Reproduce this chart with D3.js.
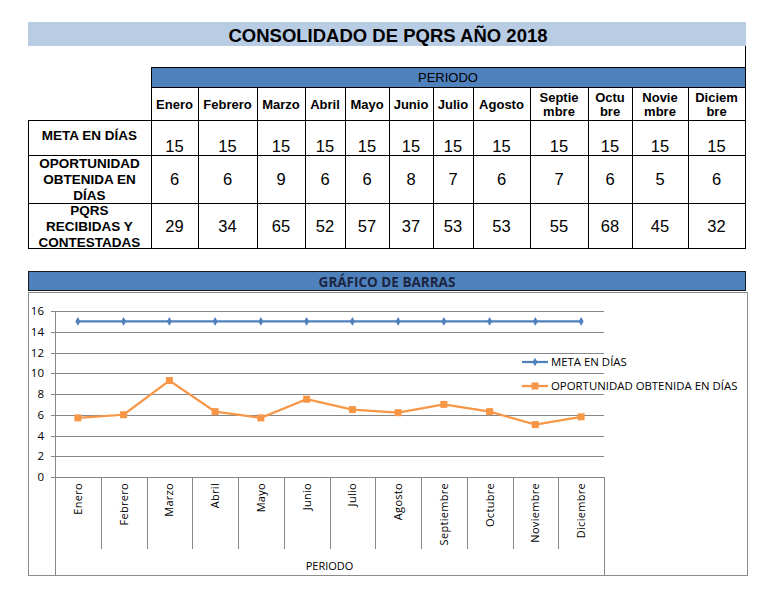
<!DOCTYPE html>
<html>
<head>
<meta charset="utf-8">
<script src="https://cdn.jsdelivr.net/npm/d3@7"></script>
<style>
html,body{margin:0;padding:0;background:#fff;}
svg{display:block;}
</style>
</head>
<body>
<svg id="c" width="773" height="594"></svg>
<script>
// ---- DATA ----
const title = "CONSOLIDADO DE PQRS AÑO 2018";
const months = ["Enero","Febrero","Marzo","Abril","Mayo","Junio","Julio","Agosto","Septiembre","Octubre","Noviembre","Diciembre"];
const monthHeaders = [["Enero"],["Febrero"],["Marzo"],["Abril"],["Mayo"],["Junio"],["Julio"],["Agosto"],["Septie","mbre"],["Octu","bre"],["Novie","mbre"],["Diciem","bre"]];
const metaTable = [15,15,15,15,15,15,15,15,15,15,15,15];
const oportunidadTable = [6,6,9,6,6,8,7,6,7,6,5,6];
const pqrsTable = [29,34,65,52,57,37,53,53,55,68,45,32];
const metaSeries = [15,15,15,15,15,15,15,15,15,15,15,15];
const oportunidadSeries = [5.7,6.0,9.3,6.3,5.7,7.5,6.5,6.2,7.0,6.3,5.05,5.8];
const yTicks = [0,2,4,6,8,10,12,14,16];
const rowLabels = [["META EN DÍAS"],["OPORTUNIDAD","OBTENIDA EN","DÍAS"],["PQRS","RECIBIDAS Y","CONTESTADAS"]];
const seriesNames = ["META EN DÍAS","OPORTUNIDAD OBTENIDA EN DÍAS"];

// ---- LAYOUT ----
const svg = d3.select("#c");
const TF = "'Liberation Sans', Arial, sans-serif";
const CF = "'Open Sans', 'Carlito', Calibri, sans-serif";
const blue = "#4f81bd", orange = "#f79646";

// Title band
svg.append("rect").attr("x",28).attr("y",22).attr("width",718).attr("height",24).attr("fill","#b8cce4");
svg.append("text").attr("x",388).attr("y",41.5).attr("text-anchor","middle")
  .attr("font-family",TF).attr("font-weight","bold").attr("font-size",18.5).attr("fill","#000").text(title);
svg.append("line").attr("x1",745.5).attr("x2",745.5).attr("y1",46).attr("y2",67).attr("stroke","#000");

// Table
const colEdges = [151,198,257,305,345,389,433,473,530,588,632,688,745];
const xc = d3.scaleOrdinal().domain(months).range(months.map((m,i)=>(colEdges[i]+colEdges[i+1])/2));
const rowEdges = [120,155,203,248];
const g = svg.append("g").attr("shape-rendering","crispEdges");
// PERIODO
g.append("rect").attr("x",151.5).attr("y",67.5).attr("width",594).attr("height",20).attr("fill",blue).attr("stroke","#000");
svg.append("text").attr("x",448).attr("y",82).attr("text-anchor","middle").attr("font-family",TF)
  .attr("font-size",13).attr("fill","#000").text("PERIODO");
// month header cells
months.forEach((m,i)=>{
  g.append("rect").attr("x",colEdges[i]+0.5).attr("y",87.5).attr("width",colEdges[i+1]-colEdges[i]).attr("height",33)
   .attr("fill","#fff").attr("stroke","#000");
  const lines = monthHeaders[i];
  lines.forEach((t,j)=>{
    const y = lines.length===1 ? 109 : 102 + j*14;
    svg.append("text").attr("x",xc(m)).attr("y",y).attr("text-anchor","middle").attr("font-family",TF)
      .attr("font-weight","bold").attr("font-size",13).text(t);
  });
});
// data rows
const tableRows = [metaTable, oportunidadTable, pqrsTable];
tableRows.forEach((vals,r)=>{
  const y0 = rowEdges[r], y1 = rowEdges[r+1];
  g.append("rect").attr("x",28.5).attr("y",y0+0.5).attr("width",123).attr("height",y1-y0).attr("fill","none").attr("stroke","#000");
  const lab = rowLabels[r];
  lab.forEach((t,j)=>{
    const y = r===0 ? 140 : (y0+y1)/2 + (j-(lab.length-1)/2)*16 + 5;
    svg.append("text").attr("x",89.5).attr("y",y).attr("text-anchor","middle").attr("font-family",TF)
      .attr("font-weight","bold").attr("font-size",13.5).text(t);
  });
  vals.forEach((v,i)=>{
    g.append("rect").attr("x",colEdges[i]+0.5).attr("y",y0+0.5).attr("width",colEdges[i+1]-colEdges[i]).attr("height",y1-y0)
     .attr("fill","none").attr("stroke","#000");
    const y = r===0 ? 152 : (y0+y1)/2 + 6;
    svg.append("text").attr("x",xc(months[i])).attr("y",y).attr("text-anchor","middle").attr("font-family",TF)
      .attr("font-size",16.5).text(v);
  });
});

// Chart header band
svg.append("rect").attr("x",28.5).attr("y",271.5).attr("width",717).attr("height",19).attr("fill",blue).attr("stroke","#1a1a1a").attr("shape-rendering","crispEdges");
svg.append("text").attr("x",387).attr("y",286.5).attr("text-anchor","middle").attr("font-family",CF)
  .attr("font-weight","bold").attr("font-size",13.5).attr("fill","#1c2540").text("GRÁFICO DE BARRAS");
// chart box
svg.append("rect").attr("x",28.5).attr("y",292.5).attr("width",719).attr("height",283).attr("fill","#fff").attr("stroke","#8c8c8c").attr("shape-rendering","crispEdges");

const x = d3.scaleBand().domain(months).range([55,604]);
const y = d3.scaleLinear().domain([0,16]).range([477,311]);
const grid = "#878787";
const cg = svg.append("g").attr("shape-rendering","crispEdges");
// gridlines
cg.selectAll(".gl").data(yTicks).enter().append("line")
  .attr("x1",51).attr("x2",604).attr("y1",d=>Math.round(y(d))+0.5).attr("y2",d=>Math.round(y(d))+0.5).attr("stroke",grid);
// y axis line (extends through category area)
cg.append("line").attr("x1",55.5).attr("x2",55.5).attr("y1",311).attr("y2",576).attr("stroke",grid);
// category separators
const bounds = months.map(m=>x(m)).concat([604]);
bounds.forEach((b,i)=>{
  const isEdge = i===0 || i===bounds.length-1;
  cg.append("line").attr("x1",Math.round(b)+0.5).attr("x2",Math.round(b)+0.5).attr("y1",477).attr("y2",isEdge?576:549).attr("stroke",grid);
});
// y tick labels
svg.selectAll(".yl").data(yTicks).enter().append("text")
  .attr("x",44).attr("y",d=>y(d)+4).attr("text-anchor","end").attr("font-family",CF).attr("font-size",11.5).attr("fill","#000").text(d=>d);
// x labels
svg.selectAll(".xl").data(months).enter().append("text")
  .attr("transform",d=>`translate(${x(d)+x.bandwidth()/2+4},483) rotate(-90)`)
  .attr("text-anchor","end").attr("font-family",CF).attr("font-size",11).attr("letter-spacing",0.3).attr("fill","#000").text(d=>d);
svg.append("text").attr("x",329.5).attr("y",570).attr("text-anchor","middle").attr("font-family",CF).attr("font-size",11).text("PERIODO");

// lines
const cx = d=>x(d)+x.bandwidth()/2;
const line = d3.line().x(d=>cx(d[0])).y(d=>y(d[1]));
const metaPts = months.map((m,i)=>[m,metaSeries[i]]);
const opPts = months.map((m,i)=>[m,oportunidadSeries[i]]);
svg.append("path").attr("d",line(metaPts)).attr("fill","none").attr("stroke",blue).attr("stroke-width",2.25);
svg.append("path").attr("d",line(opPts)).attr("fill","none").attr("stroke",orange).attr("stroke-width",2.25);
const diamond = d3.symbol().type(d3.symbolDiamond).size(22);
svg.selectAll(".dm").data(metaPts).enter().append("path").attr("d",diamond)
  .attr("transform",d=>`translate(${cx(d[0])},${y(d[1])})`).attr("fill",blue);
svg.selectAll(".sq").data(opPts).enter().append("rect")
  .attr("x",d=>cx(d[0])-3.5).attr("y",d=>y(d[1])-3.5).attr("width",7).attr("height",7).attr("fill",orange);

// legend
const lg = svg.append("g");
[[blue,362],[orange,386]].forEach(([c,ly],i)=>{
  lg.append("line").attr("x1",522).attr("x2",548).attr("y1",ly).attr("y2",ly).attr("stroke",c).attr("stroke-width",2.25);
  if(i===0) lg.append("path").attr("d",diamond).attr("transform",`translate(535,${ly})`).attr("fill",c);
  else lg.append("rect").attr("x",531.5).attr("y",ly-3.5).attr("width",7).attr("height",7).attr("fill",c);
  lg.append("text").attr("x",551).attr("y",ly+4).attr("font-family",CF).attr("font-size",11.4).attr("fill","#000").text(seriesNames[i]);
});
</script>
</body>
</html>
